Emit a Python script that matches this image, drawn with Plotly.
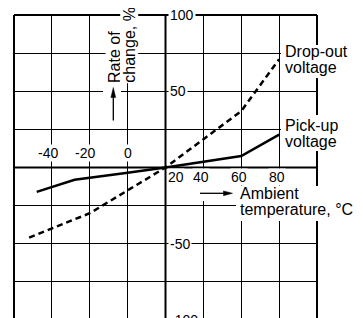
import plotly.graph_objects as go

# ---------------- data ----------------
pickup_temp = [-48, -28, 0, 20, 60, 80]
pickup_rate = [-16, -8, -3.5, 0, 7.5, 21.5]
dropout_temp = [-52, -20, 20, 60, 80]
dropout_rate = [-46, -30, 0, 37, 71]

x_ticks_neg = [-40, -20, 0]
x_ticks_pos = [20, 40, 60, 80]
y_ticks = [100, 50, -50, -100]

# ---------------- layout constants ----------------
OFF = 8                     # page body margin offset
W, H = 355, 310
ML, MR, MT, MB = 6, 46, 7, 0
X_RANGE = [-60, 100]
Y_RANGE = [-98.7, 100]
PW = W - ML - MR
PH = H - MT - MB
FONT = "Liberation Sans, Arial, sans-serif"


def px(xp):
    return (xp - OFF - ML) / PW


def py(yp):
    return (H - MB - (yp - OFF)) / PH


def yfrac(v):
    return (v - Y_RANGE[0]) / (Y_RANGE[1] - Y_RANGE[0])


fig = go.Figure()
fig.add_trace(go.Scatter(x=pickup_temp, y=pickup_rate, mode="lines",
                         line=dict(color="black", width=2.5), showlegend=False,
                         hoverinfo="skip"))
fig.add_trace(go.Scatter(x=dropout_temp, y=dropout_rate, mode="lines",
                         line=dict(color="black", width=2.5, dash="6px,4px"),
                         showlegend=False, hoverinfo="skip"))

shapes = []
# thick axis lines
shapes.append(dict(type="line", xref="x", yref="paper", x0=20, x1=20, y0=0, y1=1,
                   line=dict(color="black", width=2), layer="above"))
shapes.append(dict(type="line", xref="paper", yref="y", x0=0, x1=1, y0=0, y1=0,
                   line=dict(color="black", width=2), layer="above"))
# frame (left, top, right)
shapes.append(dict(type="line", xref="paper", yref="paper", x0=0, x1=0, y0=0, y1=1,
                   line=dict(color="black", width=2), layer="above"))
shapes.append(dict(type="line", xref="paper", yref="paper", x0=0, x1=1, y0=1, y1=1,
                   line=dict(color="black", width=2), layer="above"))
shapes.append(dict(type="line", xref="paper", yref="paper", x0=1, x1=1, y0=0, y1=1,
                   line=dict(color="black", width=2), layer="above"))


def white_rect(x0, y0, x1, y1):
    shapes.append(dict(type="rect", xref="paper", yref="paper",
                       x0=px(x0), x1=px(x1), y0=py(y1), y1=py(y0),
                       fillcolor="white", line=dict(width=0), layer="above"))


white_rect(103, 85, 121, 125)     # around up arrow
white_rect(197, 184, 237, 201)    # around right arrow
white_rect(236, 186, 353, 221)    # ambient temperature text
white_rect(281, 45, 349, 78)      # Drop-out voltage
white_rect(281, 115, 339, 151)    # Pick-up voltage

# arrows
shapes.append(dict(type="line", xref="paper", yref="paper",
                   x0=px(113.3), x1=px(113.3), y0=py(120.5), y1=py(96),
                   line=dict(color="black", width=1.3), layer="above"))
shapes.append(dict(type="path", xref="paper", yref="paper",
                   path=f"M {px(113.3)},{py(87.5)} L {px(110.9)},{py(97.5)} L {px(115.7)},{py(97.5)} Z",
                   fillcolor="black", line=dict(color="black", width=0.5), layer="above"))
shapes.append(dict(type="line", xref="paper", yref="paper",
                   x0=px(200), x1=px(225), y0=py(193.3), y1=py(193.3),
                   line=dict(color="black", width=1.3), layer="above"))
shapes.append(dict(type="path", xref="paper", yref="paper",
                   path=f"M {px(232.5)},{py(193.3)} L {px(223.5)},{py(190.9)} L {px(223.5)},{py(195.7)} Z",
                   fillcolor="black", line=dict(color="black", width=0.5), layer="above"))

ann = []
# y tick labels (on the 20 degC axis)
for v in y_ticks:
    ann.append(dict(x=20, xref="x", y=yfrac(v), yref="paper", text=str(v),
                    showarrow=False, xanchor="left", yanchor="middle", xshift=2,
                    bgcolor="white", borderpad=1,
                    font=dict(size=14, color="black", family=FONT)))
# x tick labels: negatives above the zero line, positives below
for v in x_ticks_neg:
    ann.append(dict(x=v, xref="x", y=0, yref="y", text=str(v), showarrow=False,
                    xanchor="center", yanchor="middle",
                    xshift=-4.3 if v < 0 else 0, yshift=14.5,
                    bgcolor="white", borderpad=0,
                    font=dict(size=14, color="black", family=FONT)))
for v in x_ticks_pos:
    first = v == x_ticks_pos[0]
    ann.append(dict(x=v, xref="x", y=0, yref="y", text=str(v), showarrow=False,
                    xanchor="left" if first else "center", yanchor="middle",
                    xshift=1.5 if first else -2.2, yshift=-10,
                    bgcolor="white", borderpad=0,
                    font=dict(size=14, color="black", family=FONT)))


def label(text, xl, yc):
    ann.append(dict(x=px(xl), y=py(yc), xref="paper", yref="paper", text=text,
                    showarrow=False, xanchor="left", yanchor="middle",
                    font=dict(size=16, color="black", family=FONT)))


label("Drop-out", 282.5, 51)
label("voltage", 282.5, 67.5)
label("Pick-up", 282.5, 125.5)
label("voltage", 282.5, 141.5)
label("Ambient", 238, 194)
label("temperature, °C", 237.5, 209.5)

# rotated y-axis title
for txt, xc, yc in [("Rate of", 114, 57), ("change, %", 129.7, 45)]:
    ann.append(dict(x=px(xc), y=py(yc), xref="paper", yref="paper", text=txt,
                    textangle=-90, showarrow=False, xanchor="center",
                    yanchor="middle", bgcolor="white", borderpad=0,
                    font=dict(size=16, color="black", family=FONT)))

fig.update_layout(
    width=W, height=H,
    margin=dict(l=ML, r=MR, t=MT, b=MB, pad=0),
    paper_bgcolor="white", plot_bgcolor="white",
    xaxis=dict(range=X_RANGE, tick0=-60, dtick=20, showgrid=True,
               gridcolor="black", gridwidth=1, zeroline=False,
               showticklabels=False, ticks="", showline=False, fixedrange=True),
    yaxis=dict(range=Y_RANGE, tick0=0, dtick=25, showgrid=True,
               gridcolor="black", gridwidth=1, zeroline=False,
               showticklabels=False, ticks="", showline=False, fixedrange=True),
    shapes=shapes, annotations=ann, showlegend=False,
)

fig.write_html("out.html")
